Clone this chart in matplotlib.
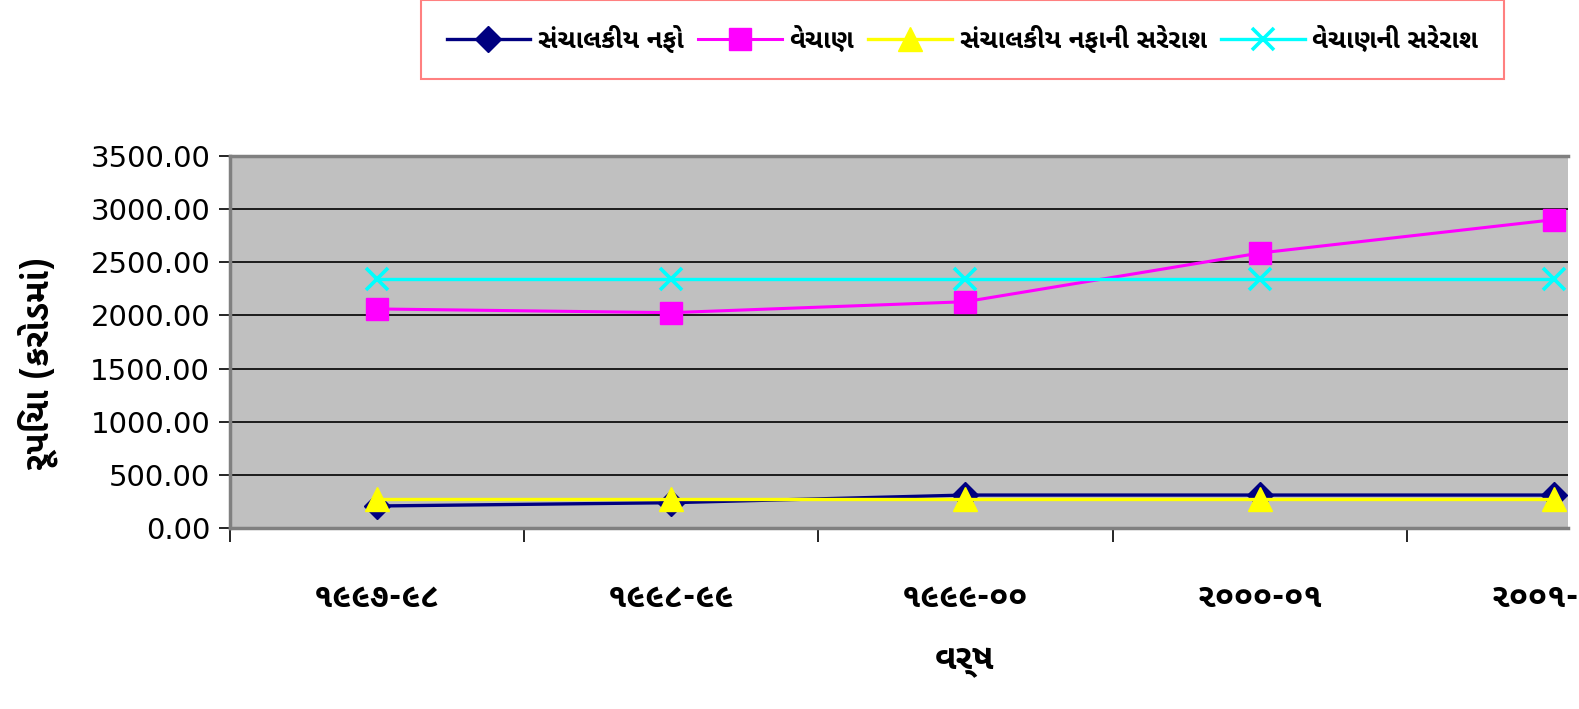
import matplotlib.pyplot as plt
import numpy as np

guj = ['Noto Sans Gujarati UI', 'DejaVu Sans']

# data (rupees, crores)
years = ['૧૯૯૭-૯૮', '૧૯૯૮-૯૯', '૧૯૯૯-૦૦', '૨૦૦૦-૦૧', '૨૦૦૧-૦૨']
op_profit = [207, 238, 310, 310, 310]
sales = [2061, 2026, 2129, 2587, 2901]
avg_profit = [275, 275, 275, 275, 275]
avg_sales = [2341, 2341, 2341, 2341, 2341]
labels = ['સંચાલકીય નફો', 'વેચાણ', 'સંચાલકીય નફાની સરેરાશ', 'વેચાણની સરેરાશ']
yticks = [0, 500, 1000, 1500, 2000, 2500, 3000, 3500]

W, H = 1579, 709
fig = plt.figure(figsize=(W / 100, H / 100), dpi=100)
ax = fig.add_axes([229.6 / W, 1 - 528 / H, (1568 - 229.6) / W, (528 - 156) / H])
ax.set_facecolor('#C0C0C0')

x = np.arange(len(years))
l1, = ax.plot(x, op_profit, color='#000080', lw=2.4, marker='D', ms=13, zorder=3)
l2, = ax.plot(x, sales, color='#FF00FF', lw=2.2, marker='s', ms=16, zorder=3)
l3, = ax.plot(x, avg_profit, color='#FFFF00', lw=2.4, marker='^', ms=17, zorder=4)
l4, = ax.plot(x, avg_sales, color='#00FFFF', lw=2.4, marker='x', ms=16, mew=2.6, zorder=3)

ax.set_ylim(0, 3500)
ax.set_yticks(yticks)
ax.set_yticklabels(['%.2f' % v for v in yticks], fontsize=21)
ax.yaxis.grid(True, color='black', lw=1.2)
ax.set_axisbelow(True)

# category axis: ticks between categories, labels at centres
cat_w = 294.3
ax.set_xticks(np.arange(-0.5, 5, 1.0))
ax.set_xticklabels([])
ax.set_xticks(x, minor=True)
ax.set_xticklabels(years, minor=True, fontsize=24, fontweight='bold', family=guj)
ax.set_xlim(-0.5, -0.5 + (1568 - 229.6) / cat_w)
ax.tick_params(axis='x', which='major', length=10, width=1.2, direction='out')
ax.tick_params(axis='x', which='minor', length=0, pad=38)
ax.tick_params(axis='y', length=8, width=1.2, direction='out', pad=6)

for s in ['top', 'bottom', 'left']:
    ax.spines[s].set_color('#808080')
    ax.spines[s].set_linewidth(2.5)
ax.spines['right'].set_visible(False)

ax.set_xlabel('વર્ષ', fontsize=25, fontweight='bold', family=guj)
ax.xaxis.set_label_coords((965 - 229.6) / 1338.4, (528 - 644) / 372)
ax.set_ylabel('રૂપિયા (કરોડમાં)', fontsize=25, fontweight='bold', family=guj)
ax.yaxis.set_label_coords((58 - 229.6) / 1338.4, (528 - 363) / 372)

leg = fig.legend([l1, l2, l3, l4], labels, ncol=4, loc='upper left',
                 bbox_to_anchor=(421 / W, 1.0),
                 prop={'size': 18.5, 'weight': 'bold', 'family': guj}, handlelength=3.25,
                 columnspacing=0.55, handletextpad=0.31, fancybox=False,
                 framealpha=1, borderpad=1.0, borderaxespad=0)
leg.get_frame().set_edgecolor('#FF8080')
leg.get_frame().set_linewidth(1.5)

fig.savefig('out.png', dpi=100)
